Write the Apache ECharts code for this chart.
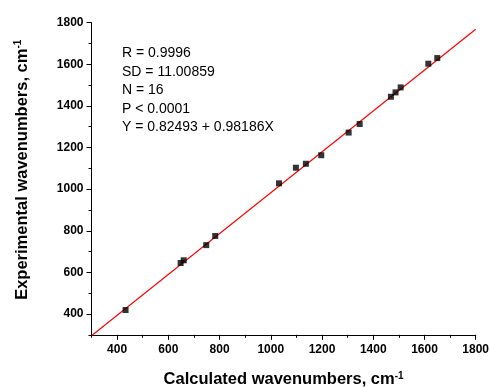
<!DOCTYPE html>
<html>
<head>
<meta charset="utf-8">
<script src="https://cdn.jsdelivr.net/npm/echarts@6/dist/echarts.min.js"></script>
<style>
  html, body { margin: 0; padding: 0; background: #fff; }
  #chart { width: 490px; height: 387px; }
</style>
</head>
<body>
<div id="chart"></div>
<script>
// calculated (x) vs experimental (y) wavenumbers
const calcValues = [433, 648, 660, 748, 783, 1032, 1098, 1137, 1197, 1304, 1347, 1469, 1487, 1507, 1615, 1650];
const expValues = [419, 645, 658, 731, 775, 1028, 1103, 1122, 1163, 1272, 1313, 1444, 1465, 1489, 1603, 1630];

// fitted line end points (Y = 0.82493 + 0.98186X at x = 300 and 1800)
const fitX = [300, 1800];
const fitY = [295.4, 1768.2];

const majorTicks = [400, 600, 800, 1000, 1200, 1400, 1600, 1800];
const minorTicks = [300, 500, 700, 900, 1100, 1300, 1500, 1700];

const statsLines = ['R = 0.9996', 'SD = 11.00859', 'N = 16', 'P < 0.0001', 'Y = 0.82493 + 0.98186X'];

const FONT = '"Liberation Sans", Arial, sans-serif';

const chart = echarts.init(document.getElementById('chart'));

const points = calcValues.map((x, i) => [x, expValues[i]]);
const fitLine = fitX.map((x, i) => [x, fitY[i]]);

const lineStyle = { color: '#000', width: 1 };

function makeAxis(isX, withLabels) {
  const axis = {
    type: 'value',
    position: isX ? 'bottom' : 'left',
    offset: 0,
    min: 300,
    max: 1800,
    interval: 100,
    splitLine: { show: false },
    axisLine: { show: withLabels, onZero: false, lineStyle },
    axisTick: {
      show: true,
      inside: false,
      length: withLabels ? 5 : 3,
      customValues: withLabels ? majorTicks : minorTicks,
      lineStyle
    },
    axisLabel: {
      show: withLabels,
      customValues: majorTicks,
      formatter: (v) => String(v),
      color: '#000',
      fontFamily: FONT,
      fontSize: 12,
      fontWeight: 'bold',
      margin: isX ? 9 : 8
    }
  };
  if (withLabels) {
    axis.nameLocation = 'middle';
    axis.nameTextStyle = {
      fontFamily: FONT,
      fontSize: 17,
      color: '#000',
      padding: isX ? [0, 0, 0, 0] : [0, 0, 0, 18],
      rich: {
        t: { fontFamily: FONT, fontSize: 16.5, fontWeight: 'bold', color: '#000' },
        s: { fontFamily: FONT, fontSize: 10, fontWeight: 'bold', color: '#000', verticalAlign: 'top', padding: [0, 0, 8, 0] }
      }
    };
    if (isX) {
      axis.name = '{t|Calculated wavenumbers, cm}{s|-1}';
      axis.nameGap = 36;
    } else {
      axis.name = '{t|Experimental wavenumbers, cm}{s|-1}';
      axis.nameGap = 60;
    }
  }
  return axis;
}

chart.setOption({
  animation: false,
  backgroundColor: '#fff',
  grid: { left: 91.5, right: 14.3, top: 22.7, bottom: 52.2, outerBoundsMode: 'none', containLabel: false },
  xAxis: [makeAxis(true, true), makeAxis(true, false)],
  yAxis: [makeAxis(false, true), makeAxis(false, false)],
  graphic: [{
    type: 'text',
    left: 122,
    top: 44,
    style: {
      text: statsLines.join('\n'),
      fontFamily: FONT,
      fontSize: 14,
      lineHeight: 18.5,
      fill: '#000'
    }
  }],
  series: [
    {
      type: 'line',
      data: fitLine,
      showSymbol: false,
      clip: true,
      lineStyle: { color: '#ff0000', width: 1.2 },
      z: 2
    },
    {
      type: 'scatter',
      data: points,
      symbol: 'rect',
      symbolSize: 6,
      itemStyle: { color: '#000' },
      z: 3
    }
  ]
});
</script>
</body>
</html>
